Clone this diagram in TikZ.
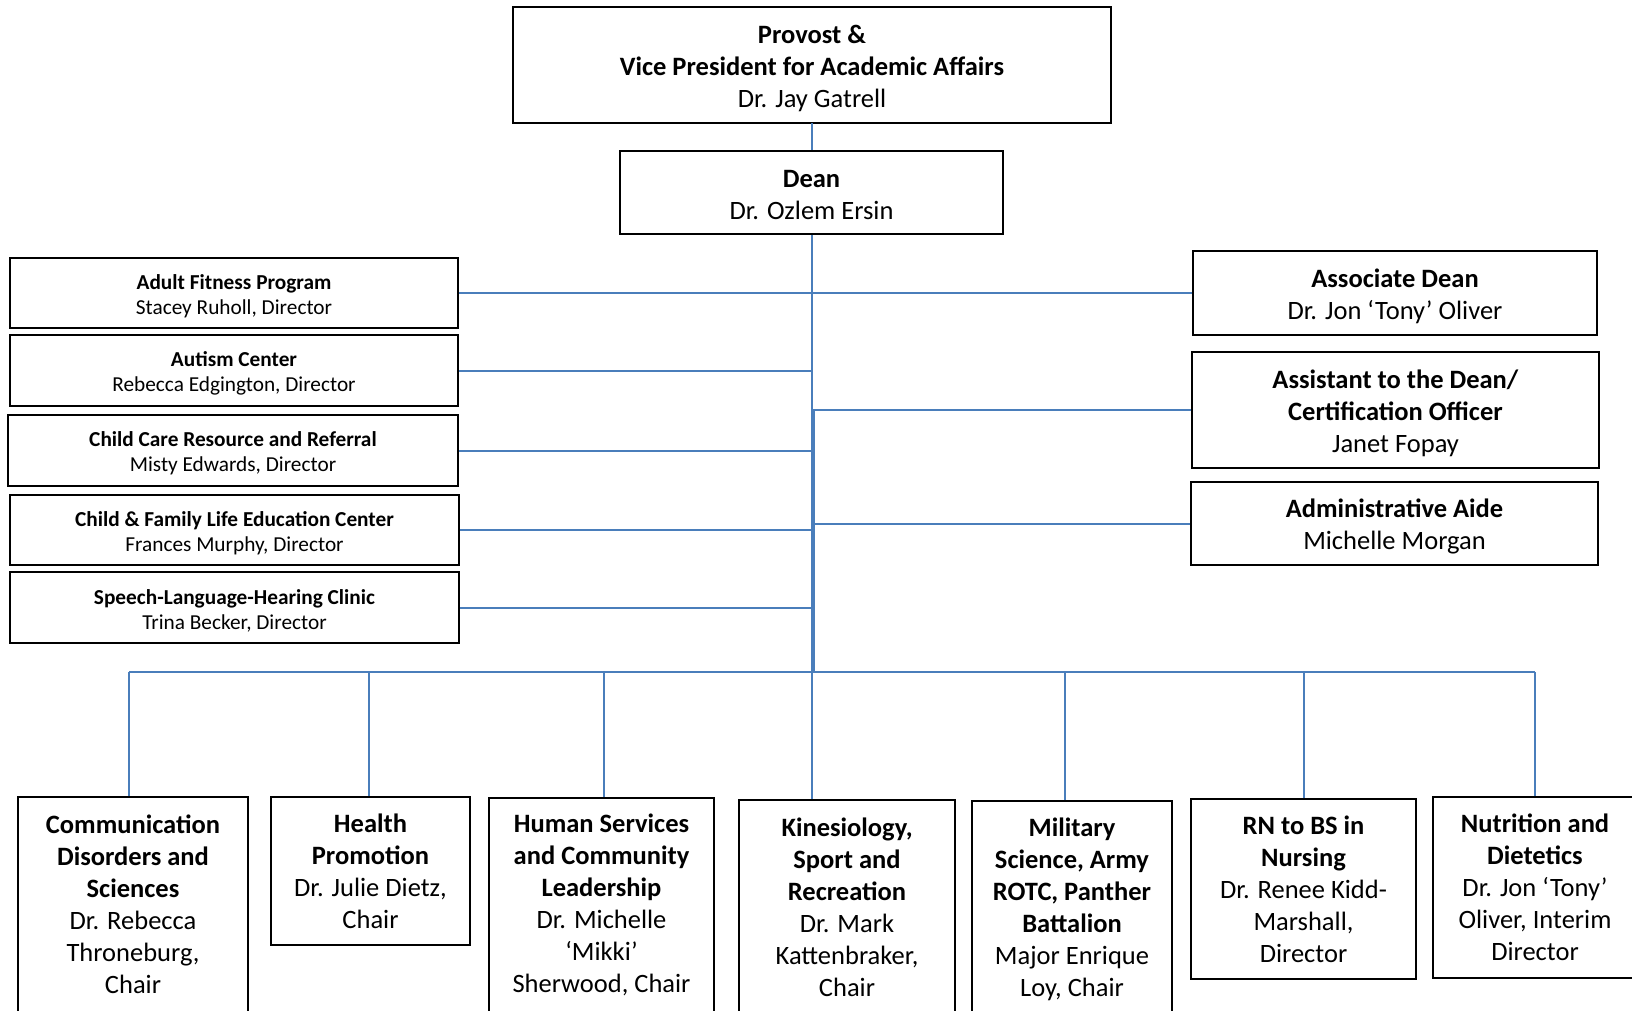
\documentclass[tikz,border=0pt]{standalone}
\usepackage{fontspec}
\setmainfont{Carlito}
\definecolor{connblue}{HTML}{4A7EBB}
\tikzset{
  box/.style={draw=black, line width=2pt, inner sep=0pt, align=center, fill=white},
  bigtext/.style={font=\fontsize{26.5}{32}\selectfont},
  smalltext/.style={font=\fontsize{21.3}{25}\selectfont},
  lbl/.style={align=center, inner sep=0pt, yshift=-3pt},
  conn/.style={draw=connblue, line width=2pt}
}
\begin{document}
\begin{tikzpicture}[x=1pt,y=-1pt]
\useasboundingbox (0,0) rectangle (1632,1010);
\clip (0,0) rectangle (1632,1010);
\fill[white] (0,0) rectangle (1632,1010);

% top
\node[box,minimum width=598pt,minimum height=116pt,label={[lbl,bigtext]center:{\textbf{Provost \&}\\\textbf{Vice President for Academic Affairs}\\Dr. Jay Gatrell}}] (provost) at (812,65) {};
\node[box,minimum width=383pt,minimum height=83pt,label={[lbl,bigtext]center:{\textbf{Dean}\\Dr. Ozlem Ersin}}] (dean) at (811.5,192.5) {};

% left
\node[box,minimum width=448pt,minimum height=70pt,label={[lbl,smalltext]center:{\textbf{Adult Fitness Program}\\Stacey Ruholl, Director}}] (adult) at (234,293) {};
\node[box,minimum width=448pt,minimum height=71pt,label={[lbl,smalltext]center:{\textbf{Autism Center}\\Rebecca Edgington, Director}}] (autism) at (234,370.5) {};
\node[box,minimum width=450pt,minimum height=71pt,label={[lbl,smalltext]center:{\textbf{Child Care Resource and Referral}\\Misty Edwards, Director}}] (childcare) at (233,450.5) {};
\node[box,minimum width=449pt,minimum height=70pt,label={[lbl,smalltext]center:{\textbf{Child \& Family Life Education Center}\\Frances Murphy, Director}}] (family) at (234.5,530) {};
\node[box,minimum width=449pt,minimum height=71pt,label={[lbl,smalltext]center:{\textbf{Speech-Language-Hearing Clinic}\\Trina Becker, Director}}] (speech) at (234.5,607.5) {};

% right
\node[box,minimum width=404pt,minimum height=84pt,label={[lbl,bigtext]center:{\textbf{Associate Dean}\\Dr. Jon ‘Tony’ Oliver}}] (assoc) at (1395,293) {};
\node[box,minimum width=407pt,minimum height=116pt,label={[lbl,bigtext]center:{\textbf{Assistant to the Dean/}\\\textbf{Certification Officer}\\Janet Fopay}}] (assist) at (1395.5,410) {};
\node[box,minimum width=407pt,minimum height=83pt,label={[lbl,bigtext]center:{\textbf{Administrative Aide}\\Michelle Morgan}}] (aide) at (1394.5,523.5) {};

% bottom
\node[box,bigtext,minimum width=230pt,minimum height=215pt] (comm) at (133,904.5) {\textbf{Communication}\\\textbf{Disorders and}\\\textbf{Sciences}\\Dr. Rebecca\\Throneburg,\\Chair};
\node[box,bigtext,minimum width=199pt,minimum height=148pt] (health) at (370.5,871) {\textbf{Health}\\\textbf{Promotion}\\Dr. Julie Dietz,\\Chair};
\node[box,bigtext,minimum width=225pt,minimum height=214pt] (human) at (601.5,905) {\textbf{Human Services}\\\textbf{and Community}\\\textbf{Leadership}\\Dr. Michelle\\‘Mikki’\\Sherwood, Chair};
\node[box,bigtext,minimum width=216pt,minimum height=215pt] (kin) at (847,907.5) {\textbf{Kinesiology,}\\\textbf{Sport and}\\\textbf{Recreation}\\Dr. Mark\\Kattenbraker,\\Chair};
\node[box,bigtext,minimum width=200pt,minimum height=216pt] (mil) at (1072,909) {\textbf{Military}\\\textbf{Science, Army}\\\textbf{ROTC, Panther}\\\textbf{Battalion}\\Major Enrique\\Loy, Chair};
\node[box,bigtext,minimum width=225pt,minimum height=180pt] (rn) at (1303.5,889) {\textbf{RN to BS in}\\\textbf{Nursing}\\Dr. Renee Kidd-\\Marshall,\\Director};
\node[box,bigtext,minimum width=204pt,minimum height=181pt] (nut) at (1535,887.5) {\textbf{Nutrition and}\\\textbf{Dietetics}\\Dr. Jon ‘Tony’\\Oliver, Interim\\Director};

\coordinate (bus) at (812,672);
% drop points on box tops
\coordinate (commtop) at ([xshift=-4pt]comm.north);
\coordinate (healthtop) at ([xshift=-2pt]health.north);
\coordinate (humantop) at ([xshift=2pt]human.north);
\coordinate (miltop) at ([xshift=-7pt]mil.north);

% connectors
\draw[conn] (provost.south) -- (dean.south |- provost.south) -- (dean.north);
\draw[conn] (dean.south) -- (dean.south |- kin.north);
\draw[conn] ([xshift=2pt]dean.south |- assist.west) -- ([xshift=2pt]dean.south |- bus);
\draw[conn] (adult.east) -- (adult.east -| dean.south);
\draw[conn] (autism.east) -- (autism.east -| dean.south);
\draw[conn] (childcare.east) -- (childcare.east -| dean.south);
\draw[conn] (family.east) -- (family.east -| dean.south);
\draw[conn] (speech.east) -- (speech.east -| dean.south);
\draw[conn] (assoc.west) -- (assoc.west -| dean.south);
\draw[conn] (assist.west) -- (assist.west -| dean.south);
\draw[conn] (aide.west) -- (aide.west -| dean.south);
\draw[conn] (commtop |- bus) -- (nut.north |- bus);
\draw[conn] (commtop) -- (commtop |- bus);
\draw[conn] (healthtop) -- (healthtop |- bus);
\draw[conn] (humantop) -- (humantop |- bus);
\draw[conn] (miltop) -- (miltop |- bus);
\draw[conn] (rn.north) -- (rn.north |- bus);
\draw[conn] (nut.north) -- (nut.north |- bus);
\end{tikzpicture}
\end{document}
